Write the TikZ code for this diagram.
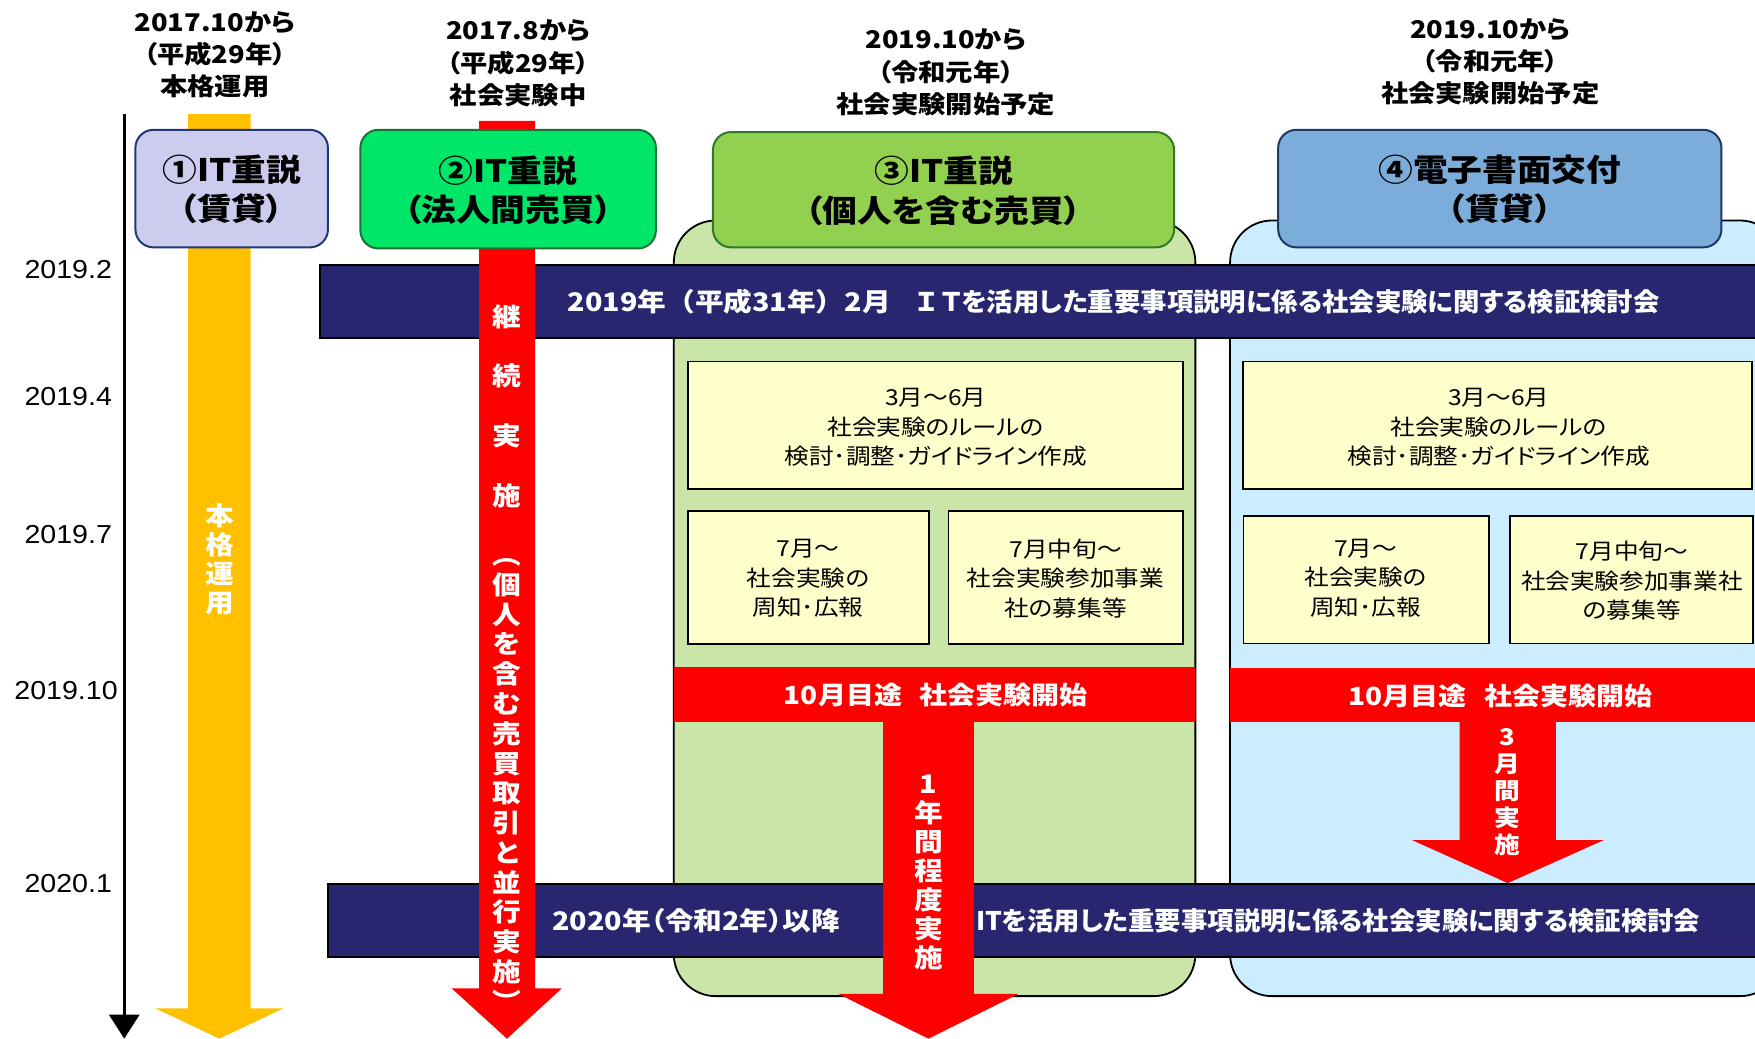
\documentclass[tikz,border=0pt]{standalone}
\usepackage{fontspec}
\setmainfont{Liberation Sans}[FakeStretch=1.1]
\newfontfamily\jp{Noto Sans CJK JP}[FakeStretch=1.12,RawFeature=+palt]
\newfontfamily\jpb{Noto Sans CJK JP}[FakeStretch=1.03,RawFeature=+palt]
\newfontfamily\jpf{Noto Sans CJK JP}[FakeStretch=1.12]
\usetikzlibrary{arrows.meta}
\definecolor{cNavy}{RGB}{41,38,112}
\definecolor{cOrange}{RGB}{255,192,0}
\definecolor{cRed}{RGB}{255,0,0}
\definecolor{cBoxA}{RGB}{204,204,238}
\definecolor{cBoxAd}{RGB}{31,56,120}
\definecolor{cBoxB}{RGB}{0,230,104}
\definecolor{cBoxBd}{RGB}{25,115,50}
\definecolor{cBoxC}{RGB}{146,208,80}
\definecolor{cBoxCd}{RGB}{50,120,40}
\definecolor{cBoxD}{RGB}{124,172,218}
\definecolor{cBoxDd}{RGB}{31,56,100}
\definecolor{cPanG}{RGB}{201,230,168}
\definecolor{cPanB}{RGB}{204,236,255}
\definecolor{cYel}{RGB}{255,255,204}
\begin{document}
\begin{tikzpicture}[x=0.5597pt,y=-0.5597pt,
  panel/.style={draw=black,line width=0.9pt,rounded corners=21pt},
  band/.style={draw=black,line width=1pt,fill=cNavy},
  ybox/.style={draw=black,line width=0.9pt,fill=cYel},
  tbox/.style={line width=1pt,rounded corners=9pt},
  tl/.style={font=\jp\bfseries\fontsize{12.2}{16.1}\selectfont,align=center,inner sep=0pt},
  tt/.style={font=\jp\bfseries\fontsize{15.5}{19.6}\selectfont,align=center,inner sep=0pt},
  yt/.style={font=\jp\fontsize{11}{14.8}\selectfont,align=center,inner sep=0pt},
  bt/.style={font=\jp\bfseries\fontsize{12.8}{15}\selectfont,text=white,inner sep=0pt},
  btn/.style={font=\jpb\bfseries\fontsize{12.8}{15}\selectfont,text=white,inner sep=0pt},
  rt/.style={font=\jp\bfseries\fontsize{12.5}{15}\selectfont,text=white,inner sep=0pt},
  dl/.style={font=\fontsize{13}{15}\selectfont,inner sep=0pt},
  vt/.style={font=\jp\bfseries\fontsize{12.8}{14}\selectfont,text=white,inner sep=0pt,text height=11.2pt,text depth=1.5pt},
  vs/.style={font=\jp\bfseries\fontsize{11.5}{13}\selectfont,text=white,inner sep=0pt,text height=10pt,text depth=1.4pt}]
\useasboundingbox (0,0) rectangle (1568,928);
\clip (0,0) rectangle (1568,928);
% panels
\draw[panel,fill=cPanG] (602,197) rectangle (1068,890);
\draw[panel,fill=cPanB] (1099,197) rectangle (1592,890);
% navy bands
\draw[band] (286,237) rectangle (1620,302);
\draw[band] (293,790) rectangle (1620,855);
% red bands
\fill[cRed] (602,596) rectangle (1068,645.5);
\fill[cRed] (1099,597) rectangle (1620,645.5);
% yellow boxes
\draw[ybox] (615,323) rectangle (1057,437);
\draw[ybox] (615,456.5) rectangle (830,575.5);
\draw[ybox] (847.5,456.5) rectangle (1057,575.5);
\draw[ybox] (1110.5,323) rectangle (1565.5,437);
\draw[ybox] (1111,461) rectangle (1330,575);
\draw[ybox] (1349,461) rectangle (1566.5,575);
% block arrows
\fill[cOrange] (168,102) -- (224,102) -- (224,901) -- (253,901) -- (196,928) -- (139,901) -- (168,901) -- cycle;
\fill[cRed] (428,108) -- (478,108) -- (478,883) -- (502,883) -- (453,928) -- (403.5,883) -- (428,883) -- cycle;
\fill[cRed] (789,640) -- (870,640) -- (870,888) -- (910,888) -- (829.5,928) -- (749,888) -- (789,888) -- cycle;
\fill[cRed] (1304,640) -- (1390,640) -- (1390,750.5) -- (1433,750.5) -- (1347,789) -- (1261.5,750.5) -- (1304,750.5) -- cycle;
% title boxes
\draw[tbox,fill=cBoxA,draw=cBoxAd] (121,116) rectangle (293,221);
\draw[tbox,fill=cBoxB,draw=cBoxBd] (322,116) rectangle (586,222);
\draw[tbox,fill=cBoxC,draw=cBoxCd] (637,118) rectangle (1049,221);
\draw[tbox,fill=cBoxD,draw=cBoxDd] (1142,116) rectangle (1538,221);
% axis
\coordinate (axtop) at (111,102);
\coordinate (axbot) at (111,928);
\draw[line width=1.5pt,-{Triangle[length=12pt,width=15pt]}] (axtop) -- (axbot);
% date labels
\node[dl] (d1) at (61,241) {2019.2};
\node[dl] (d2) at (61,354) {2019.4};
\node[dl] (d3) at (61,478) {2019.7};
\node[dl] (d4) at (59,617) {2019.10};
\node[dl] (d5) at (61,789) {2020.1};
% top labels
\node[tl] (t1) at (192,49) {2017.10から\\（平成29年）\\本格運用};
\node[tl] (t2) at (463,56.5) {2017.8から\\（平成29年）\\社会実験中};
\node[tl] (t3) at (845,64.7) {2019.10から\\（令和元年）\\社会実験開始予定};
\node[tl] (t4) at (1331.5,55) {2019.10から\\（令和元年）\\社会実験開始予定};
% titles
\node[tt] (h1) at (207,169.5) {①IT重説\\（賃貸）};
\node[tt] (h2) at (454,170) {②IT重説\\（法人間売買）};
\node[tt] (h3) at (843,170.5) {③IT重説\\（個人を含む売買）};
\node[tt] (h4) at (1340,169) {④電子書面交付\\（賃貸）};
% band texts
\node[bt] (b1) at (995,270) {{\jpf 2019年（平成31年）2月}\hspace{1em}{\jpb Ｉ\hspace{0.2em}Ｔを活用した重要事項説明に係る社会実験に関する検証検討会}};
\node[bt] (b2a) at (622,823) {2020年（令和2年）以降};
\node[btn] (b2b) at (1195.5,823) {ITを活用した重要事項説明に係る社会実験に関する検証検討会};
% red band texts
\node[rt] (r1) at (836,621) {10月目途\hspace{0.7em}社会実験開始};
\node[rt] (r2) at (1340.5,622) {10月目途\hspace{0.7em}社会実験開始};
% yellow box texts
\node[yt] (y1) at (836,382) {3月～6月\\社会実験のルールの\\検討･調整･ガイドライン作成};
\node[yt] (y2) at (722,517) {7月～\\社会実験の\\周知･広報};
\node[yt] (y3) at (952,517) {7月中旬～\\社会実験参加事業\\社の募集等};
\node[yt] (y4) at (1339,382) {3月～6月\\社会実験のルールの\\検討･調整･ガイドライン作成};
\node[yt] (y5) at (1220,516.5) {7月～\\社会実験の\\周知･広報};
\node[yt] (y6) at (1458,519) {7月中旬～\\社会実験参加事業社\\の募集等};
% vertical texts
\foreach \c [count=\i from 0] in {本,格,運,用}
  \node[vt] (va\i) at (196,461+26*\i) {\c};
\foreach \c [count=\i from 0] in {継,続,実,施}
  \node[vt] (vb\i) at (453,283+53.2*\i) {\c};
\foreach \c [count=\i from 0] in {︵,個,人,を,含,む,売,買,取,引,と,並,行,実,施,︶}
  \node[vt] (vc\i) at (453,495.8+26.6*\i) {\c};
\foreach \c [count=\i from 0] in {1,年,間,程,度,実,施}
  \node[vt] (vd\i) at (829.5,700+26*\i) {\c};
\foreach \c [count=\i from 0] in {3,月,間,実,施}
  \node[vs] (ve\i) at (1347,658+24.2*\i) {\c};
\end{tikzpicture}
\end{document}
